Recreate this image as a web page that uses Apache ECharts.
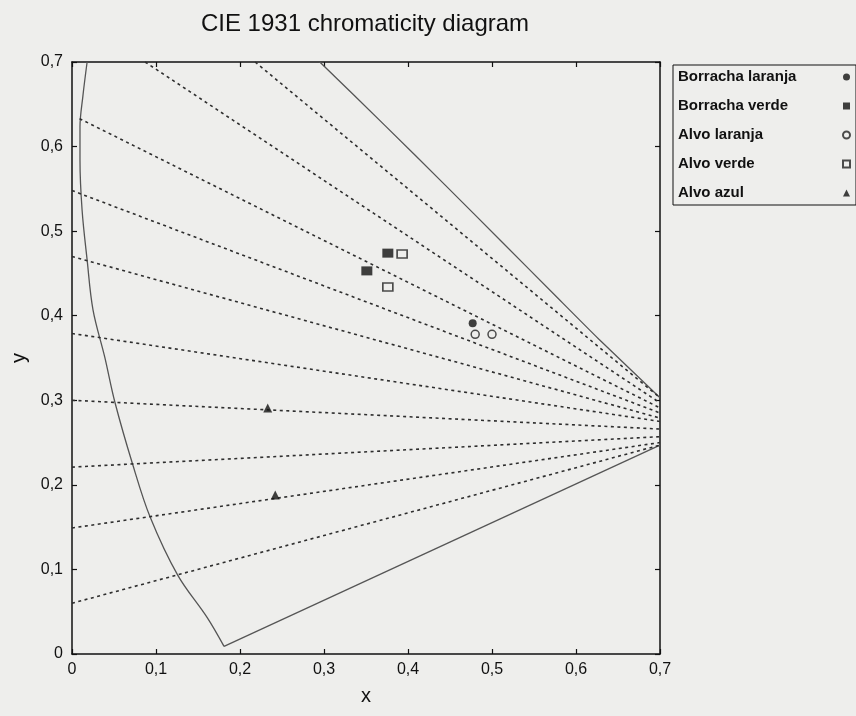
<!DOCTYPE html>
<html><head><meta charset="utf-8">
<script src="https://cdn.jsdelivr.net/npm/echarts@6/dist/echarts.min.js"></script>
<style>html,body{margin:0;padding:0;background:#eeeeec}#c{width:856px;height:716px}</style>
</head><body><div id="c"></div>
<script>
const xTickLabels = ['0','0,1','0,2','0,3','0,4','0,5','0,6','0,7'];
const yTickLabels = ['0','0,1','0,2','0,3','0,4','0,5','0,6','0,7'];

// spectral locus
const locusLeft = [[0.018,0.70],[0.013,0.66],[0.0095,0.623],[0.0095,0.584],[0.012,0.525],[0.018,0.466],[0.025,0.407],[0.039,0.351],[0.051,0.298],[0.072,0.225],[0.093,0.162],[0.126,0.093],[0.161,0.043],[0.181,0.009]];
const purpleLine = [[0.181,0.009],[0.70,0.247]];
const locusUpper = [[0.295,0.70],[0.373,0.6245],[0.444,0.5547],[0.5125,0.4866],[0.575,0.4242],[0.627,0.3725],[0.70,0.303]];

// dashed lines: start and end points
const dashedStarts = [[0.218,0.70],[0.087,0.70],[0.009,0.633],[0,0.548],[0,0.470],[0,0.379],[0,0.300],[0,0.221],[0,0.149],[0,0.060]];
const dashedEnds = [[0.70,0.303],[0.70,0.297],[0.70,0.291],[0.70,0.285],[0.70,0.279],[0.70,0.275],[0.70,0.266],[0.70,0.257],[0.70,0.250],[0.70,0.247]];

// measured points
const seriesNames = ['Borracha laranja','Borracha verde','Alvo laranja','Alvo verde','Alvo azul'];
const borrachaLaranja = [[0.477,0.391]];
const borrachaVerde = [[0.376,0.474],[0.351,0.453]];
const alvoLaranja = [[0.480,0.378],[0.500,0.378]];
const alvoVerde = [[0.393,0.473],[0.376,0.434]];
const alvoAzul = [[0.233,0.291],[0.242,0.188]];

const bg = '#eeeeec';
const ink = '#111';
const font = 'Liberation Sans, Arial, sans-serif';

const series = [];
series.push({type:'line', data:locusLeft, smooth:0.35, symbol:'none', silent:true, lineStyle:{color:'#555', width:1.3}, z:2});
series.push({type:'line', data:purpleLine, symbol:'none', silent:true, lineStyle:{color:'#555', width:1.3}, z:2});
series.push({type:'line', data:locusUpper, smooth:0.2, symbol:'none', silent:true, lineStyle:{color:'#555', width:1.3}, z:2});
dashedStarts.forEach((s, i) => {
  series.push({type:'line', data:[s, dashedEnds[i]], symbol:'none', silent:true,
    lineStyle:{color:'#2e2e2e', width:1.6, type:[3,3.5]}, z:2});
});
const scatterDefs = [
  {data:borrachaLaranja, symbol:'circle', symbolSize:8, itemStyle:{color:ink}},
  {data:borrachaVerde, symbol:'rect', symbolSize:[11,9], itemStyle:{color:ink}},
  {data:alvoLaranja, symbol:'circle', symbolSize:8, itemStyle:{color:bg, borderColor:'#222', borderWidth:1.5}},
  {data:alvoVerde, symbol:'rect', symbolSize:[10,8], itemStyle:{color:bg, borderColor:'#222', borderWidth:1.5}},
  {data:alvoAzul, symbol:'triangle', symbolSize:9, itemStyle:{color:ink}}
];
scatterDefs.forEach((d, i) => {
  series.push(Object.assign({type:'scatter', name:seriesNames[i], z:5}, d));
});

const axisBase = {
  type:'value', min:0, max:0.7, interval:0.1,
  splitLine:{show:false},
  axisLine:{show:true, onZero:false, lineStyle:{color:ink, width:1.5}},
  axisTick:{show:true, inside:true, length:5, lineStyle:{color:ink, width:1.2}}
};

const chart = echarts.init(document.getElementById('c'));
chart.setOption({
  backgroundColor: bg,
  animation: false,
  title: {
    text:'CIE 1931 chromaticity diagram', left:360, top:7, textAlign:'center',
    textStyle:{fontSize:24, fontWeight:'normal', color:ink, fontFamily:font}
  },
  grid: {left:72, right:196, top:62, bottom:62},
  legend: {
    orient:'vertical', left:673, top:65, align:'right',
    data: seriesNames, selectedMode:false,
    itemWidth:7, itemHeight:7, itemGap:11,
    padding:[3,5,3,5], borderColor:ink, borderWidth:1, backgroundColor:bg,
    formatter: name => '{t|' + name + '}',
    textStyle:{
      fontSize:15, fontWeight:'bold', color:ink, lineHeight:18, fontFamily:font,
      rich:{t:{width:160, align:'left', fontSize:15, fontWeight:'bold', color:ink, lineHeight:18, fontFamily:font}}
    }
  },
  xAxis: [
    Object.assign({}, axisBase, {
      position:'bottom',
      axisLabel:{formatter: v => xTickLabels[Math.round(v*10)], fontSize:16, color:ink, margin:8, fontFamily:font},
      name:'x', nameLocation:'middle', nameGap:32,
      nameTextStyle:{fontSize:20, color:ink, fontFamily:font}
    }),
    Object.assign({}, axisBase, {position:'top', axisLabel:{show:false}})
  ],
  yAxis: [
    Object.assign({}, axisBase, {
      position:'left',
      axisLabel:{formatter: v => yTickLabels[Math.round(v*10)], fontSize:16, color:ink, margin:9, fontFamily:font},
      name:'y', nameLocation:'middle', nameGap:42,
      nameTextStyle:{fontSize:20, color:ink, fontFamily:font}
    }),
    Object.assign({}, axisBase, {position:'right', axisLabel:{show:false}})
  ],
  series: series
});
</script>
</body></html>
